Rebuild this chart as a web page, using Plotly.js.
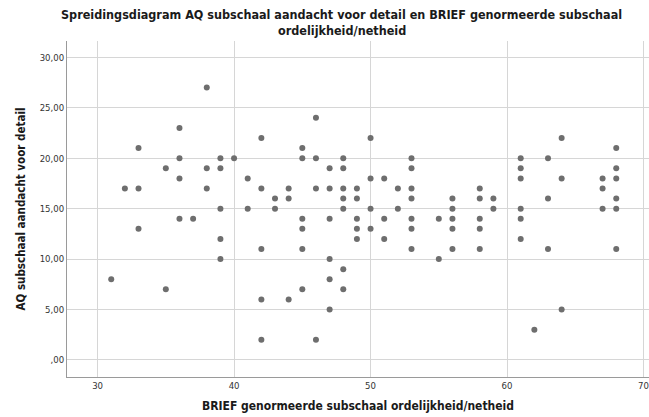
<!DOCTYPE html>
<html>
<head>
<meta charset="utf-8">
<script src="https://cdn.plot.ly/plotly-3.0.1.min.js"></script>
<style>html,body{margin:0;padding:0;background:#fff;}#chart{width:649px;height:417px;}</style>
</head>
<body>
<div id="chart"></div>
<script>
// BRIEF genormeerde subschaal ordelijkheid/netheid (x)
const briefScores = [
  31,
  32,
  33,33,33,
  35,35,
  36,36,36,36,
  37,
  38,38,38,
  39,39,39,39,39,
  40,
  41,41,
  42,42,42,42,42,
  43,43,
  44,44,44,
  45,45,45,45,45,45,
  46,46,46,46,
  47,47,47,47,47,47,
  48,48,48,48,48,48,48,
  49,49,49,49,49,
  50,50,50,50,
  51,51,51,
  52,52,
  53,53,53,53,53,53,53,
  55,55,
  56,56,56,56,56,
  58,58,58,58,58,
  59,59,
  61,61,61,61,61,61,
  62,
  63,63,63,
  64,64,64,
  67,67,67,
  68,68,68,68,68,68
];
// AQ subschaal aandacht voor detail (y)
const aqScores = [
  8,
  17,
  21,17,13,
  19,7,
  23,20,18,14,
  14,
  27,19,17,
  20,19,15,12,10,
  20,
  18,15,
  22,17,11,6,2,
  16,15,
  17,16,6,
  21,20,14,13,11,7,
  24,20,17,2,
  19,17,14,10,8,5,
  20,19,17,16,15,9,7,
  17,16,14,13,12,
  22,18,15,13,
  18,14,12,
  17,15,
  20,19,17,16,14,13,11,
  14,10,
  16,15,14,13,11,
  17,16,14,13,11,
  16,15,
  20,19,18,15,14,12,
  3,
  20,16,11,
  22,18,5,
  18,17,15,
  21,19,18,16,15,11
];
const xTickVals = [30,40,50,60,70];
const xTickText = ["30","40","50","60","70"];
const yTickVals = [0,5,10,15,20,25,30];
const yTickText = [",00","5,00","10,00","15,00","20,00","25,00","30,00"];
const titleLines = [
  "Spreidingsdiagram AQ subschaal aandacht voor detail en BRIEF genormeerde subschaal",
  "ordelijkheid/netheid"
];

const fontFam = '"DejaVu Sans Condensed", "DejaVu Sans", sans-serif';

const trace = {
  x: briefScores,
  y: aqScores,
  type: 'scatter',
  mode: 'markers',
  marker: {color: '#6e6e6e', size: 6, line: {width: 0}},
  hoverinfo: 'x+y'
};

const layout = {
  width: 649, height: 417,
  margin: {l: 67, r: 0, t: 41, b: 40, pad: 0},
  paper_bgcolor: '#ffffff',
  plot_bgcolor: '#ffffff',
  showlegend: false,
  annotations: [
    {text: '<b>' + titleLines[0] + '</b>', xref: 'paper', yref: 'paper', x: 0.4725, y: 1.0795,
     xanchor: 'center', yanchor: 'middle', showarrow: false,
     font: {family: fontFam, size: 12.5, color: '#1a1a1a'}},
    {text: '<b>' + titleLines[1] + '</b>', xref: 'paper', yref: 'paper', x: 0.4725, y: 1.0325,
     xanchor: 'center', yanchor: 'middle', showarrow: false,
     font: {family: fontFam, size: 12.5, color: '#1a1a1a'}}
  ],
  xaxis: {
    range: [27.76, 70.4],
    tickvals: xTickVals, ticktext: xTickText,
    showgrid: true, gridcolor: '#d6d6d6', gridwidth: 1,
    zeroline: false,
    showline: true, linecolor: '#9a9a9a', linewidth: 1,
    ticks: '',
    tickfont: {family: fontFam, size: 9.5, color: '#333'},
    title: {text: '<b>BRIEF genormeerde subschaal ordelijkheid/netheid</b>', font: {family: fontFam, size: 12, color: '#1a1a1a'}, standoff: 11}
  },
  yaxis: {
    range: [-1.69, 31.62],
    tickvals: yTickVals, ticktext: yTickText,
    showgrid: true, gridcolor: '#d6d6d6', gridwidth: 1,
    zeroline: false,
    showline: true, linecolor: '#9a9a9a', linewidth: 1,
    ticks: '',
    tickfont: {family: fontFam, size: 9.5, color: '#333'},
    title: {text: '<b>AQ subschaal aandacht voor detail</b>', font: {family: fontFam, size: 11.5, color: '#1a1a1a'}, standoff: 11}
  }
};

Plotly.newPlot('chart', [trace], layout, {displayModeBar: false, staticPlot: true});
</script>
</body>
</html>
